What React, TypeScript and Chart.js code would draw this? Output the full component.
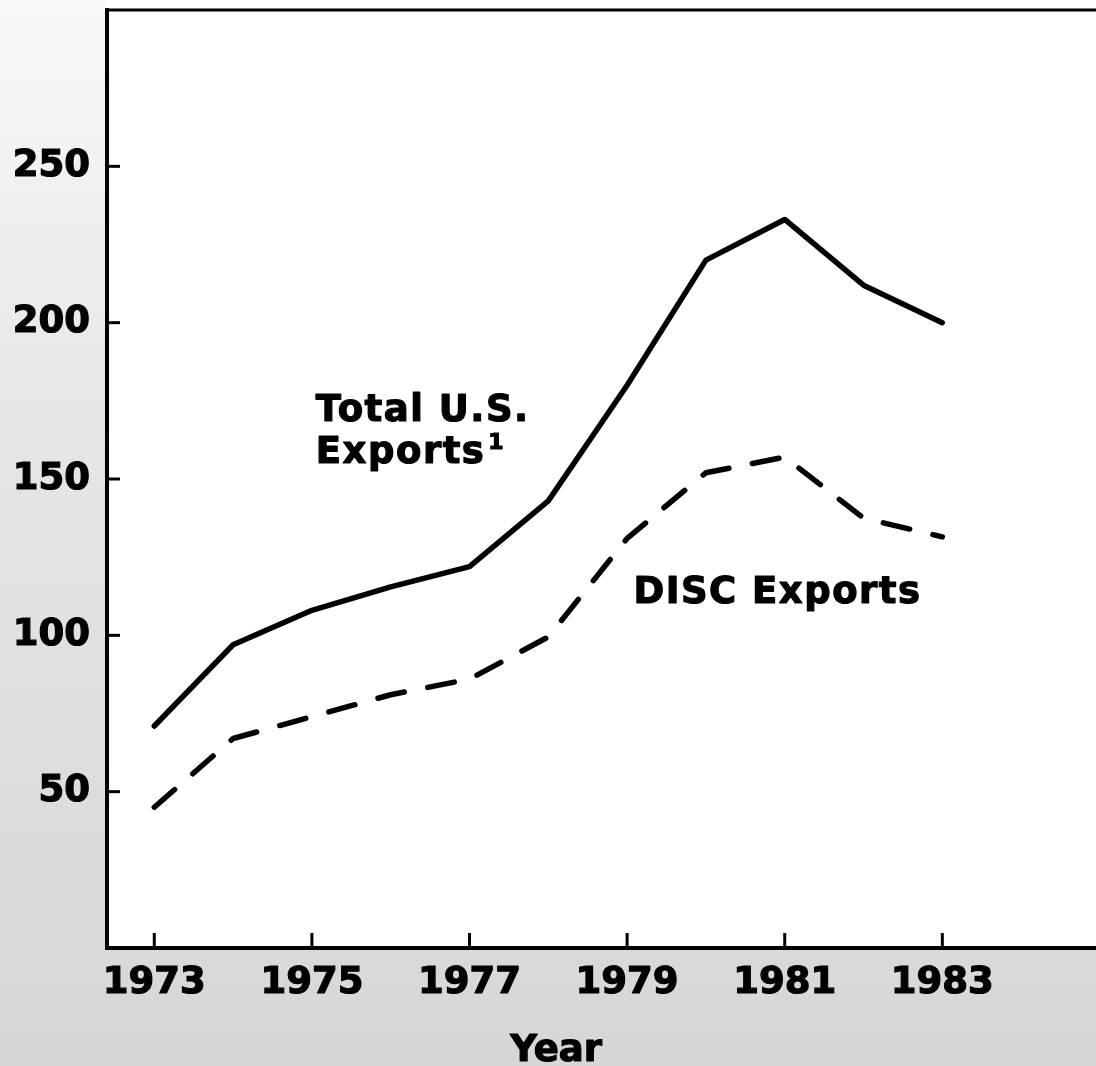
import React, { useEffect, useRef } from "react";
import { Chart, registerables } from "chart.js";

Chart.register(...registerables);

// ---- data ----
const years = [1973, 1974, 1975, 1976, 1977, 1978, 1979, 1980, 1981, 1982, 1983];
const totalExports = [71, 97, 108, 115.5, 122, 143, 180, 220, 233, 212, 200];
const discExports = [45, 67, 74, 81, 86, 99.5, 131, 152, 157, 137.5, 131.5];
const xTickYears = [1973, 1975, 1977, 1979, 1981, 1983];
const yTickValues = [50, 100, 150, 200, 250];
const seriesNames = ["Total U.S. Exports", "DISC Exports"];
const totalLabelLines = ["Total U.S.", "Exports"];
const totalLabelSup = "1";
const discLabel = "DISC Exports";
const xAxisTitle = "Year";

const FONT = '"DejaVu Sans", "Liberation Sans", Arial, sans-serif';

function heavyText(ctx: any, text: string, x: number, y: number) {
  ctx.fillText(text, x, y);
  ctx.strokeText(text, x, y);
}

const decorPlugin = {
  id: "decor",
  beforeDraw(chart: any) {
    const { ctx, width, height, chartArea } = chart;
    ctx.save();
    const g = ctx.createLinearGradient(0, 0, 0, height);
    g.addColorStop(0, "#f8f8f8");
    g.addColorStop(0.4, "#e6e6e6");
    g.addColorStop(1, "#d6d6d6");
    ctx.fillStyle = g;
    ctx.fillRect(0, 0, width, height);
    ctx.fillStyle = "#ffffff";
    ctx.fillRect(chartArea.left, 0, width - chartArea.left, chartArea.top);
    ctx.fillRect(chartArea.left, chartArea.top, chartArea.right - chartArea.left, chartArea.bottom - chartArea.top);
    ctx.restore();
  },
  afterDraw(chart: any) {
    const { ctx, chartArea, scales } = chart;
    const x = scales.x;
    const y = scales.y;
    ctx.save();
    ctx.strokeStyle = "#000";
    ctx.lineCap = "butt";
    // top frame line
    ctx.lineWidth = 3;
    ctx.beginPath();
    ctx.moveTo(chartArea.left - 2, chartArea.top);
    ctx.lineTo(chartArea.right, chartArea.top);
    ctx.stroke();
    // inward tick marks
    ctx.lineWidth = 3;
    xTickYears.forEach((v) => {
      const px = x.getPixelForValue(v);
      ctx.beginPath();
      ctx.moveTo(px, chartArea.bottom);
      ctx.lineTo(px, chartArea.bottom - 15);
      ctx.stroke();
    });
    yTickValues.forEach((v) => {
      const py = y.getPixelForValue(v);
      ctx.beginPath();
      ctx.moveTo(chartArea.left, py);
      ctx.lineTo(chartArea.left + 13, py);
      ctx.stroke();
    });
    // series labels
    ctx.fillStyle = "#000";
    ctx.strokeStyle = "#000";
    ctx.lineWidth = 1.2;
    ctx.lineJoin = "round";
    ctx.textAlign = "left";
    ctx.textBaseline = "alphabetic";
    ctx.letterSpacing = "1.5px";
    ctx.font = `bold 37px ${FONT}`;
    const tx = x.getPixelForValue(1975.05);
    heavyText(ctx, totalLabelLines[0], tx, y.getPixelForValue(168.5));
    const l2y = y.getPixelForValue(155);
    heavyText(ctx, totalLabelLines[1], tx, l2y);
    const w2 = ctx.measureText(totalLabelLines[1]).width;
    ctx.font = `bold 22px ${FONT}`;
    heavyText(ctx, totalLabelSup, tx + w2 + 3, l2y - 14);
    ctx.font = `bold 37px ${FONT}`;
    heavyText(ctx, discLabel, x.getPixelForValue(1979.08), y.getPixelForValue(110.5));
    // axis title
    ctx.letterSpacing = "0px";
    ctx.textAlign = "center";
    heavyText(ctx, xAxisTitle, x.getPixelForValue(1978.1), chartArea.bottom + 113);
    ctx.restore();
  },
};

export default function App() {
  const ref = useRef<HTMLCanvasElement | null>(null);
  useEffect(() => {
    if (!ref.current) return;
    const chart = new Chart(ref.current, {
      type: "line",
      data: {
        datasets: [
          {
            label: seriesNames[0],
            data: years.map((yr, i) => ({ x: yr, y: totalExports[i] })),
            borderColor: "#000",
            borderWidth: 5.5,
            pointRadius: 0,
            tension: 0,
            borderCapStyle: "round",
            borderJoinStyle: "round",
          },
          {
            label: seriesNames[1],
            data: years.map((yr, i) => ({ x: yr, y: discExports[i] })),
            borderColor: "#000",
            borderWidth: 5.5,
            pointRadius: 0,
            tension: 0,
            borderDash: [27, 24],
            borderCapStyle: "round",
            borderJoinStyle: "round",
          },
        ],
      },
      options: {
        responsive: false,
        animation: false,
        devicePixelRatio: 1,
        layout: { padding: { top: 10, right: 0, left: 0, bottom: 0 } },
        plugins: {
          legend: { display: false },
          tooltip: { enabled: false },
          title: { display: false },
        },
        scales: {
          x: {
            type: "linear",
            min: 1972.4,
            max: 1984.95,
            afterBuildTicks: (s: any) => {
              s.ticks = xTickYears.map((v) => ({ value: v }));
            },
            afterFit: (s: any) => {
              s.height = 118;
              s.paddingLeft = 0;
              s.paddingRight = 0;
            },
            grid: { display: false, drawTicks: false, tickLength: 0 },
            border: { display: true, color: "#000", width: 4 },
            ticks: {
              color: "#000",
              padding: 13,
              maxRotation: 0,
              autoSkip: false,
              textStrokeColor: "#000",
              textStrokeWidth: 1.2,
              font: { family: FONT, size: 37, weight: "bold" },
              callback: (v: any) => String(v),
            },
          },
          y: {
            type: "linear",
            min: 0,
            max: 300,
            afterBuildTicks: (s: any) => {
              s.ticks = yTickValues.map((v) => ({ value: v }));
            },
            afterFit: (s: any) => {
              s.width = 107;
              s.paddingTop = 0;
              s.paddingBottom = 0;
            },
            grid: { display: false, drawTicks: false, tickLength: 0 },
            border: { display: true, color: "#000", width: 4 },
            ticks: {
              color: "#000",
              padding: 17,
              autoSkip: false,
              textStrokeColor: "#000",
              textStrokeWidth: 1.2,
              font: { family: FONT, size: 37, weight: "bold" },
              callback: (v: any) => String(v),
            },
          },
        },
      },
      plugins: [decorPlugin],
    } as any);
    return () => chart.destroy();
  }, []);
  return (
    <div style={{ position: "absolute", left: 0, top: 0, width: 1096, height: 1066 }}>
      <canvas ref={ref} width={1096} height={1066} style={{ display: "block", width: 1096, height: 1066 }} />
    </div>
  );
}
